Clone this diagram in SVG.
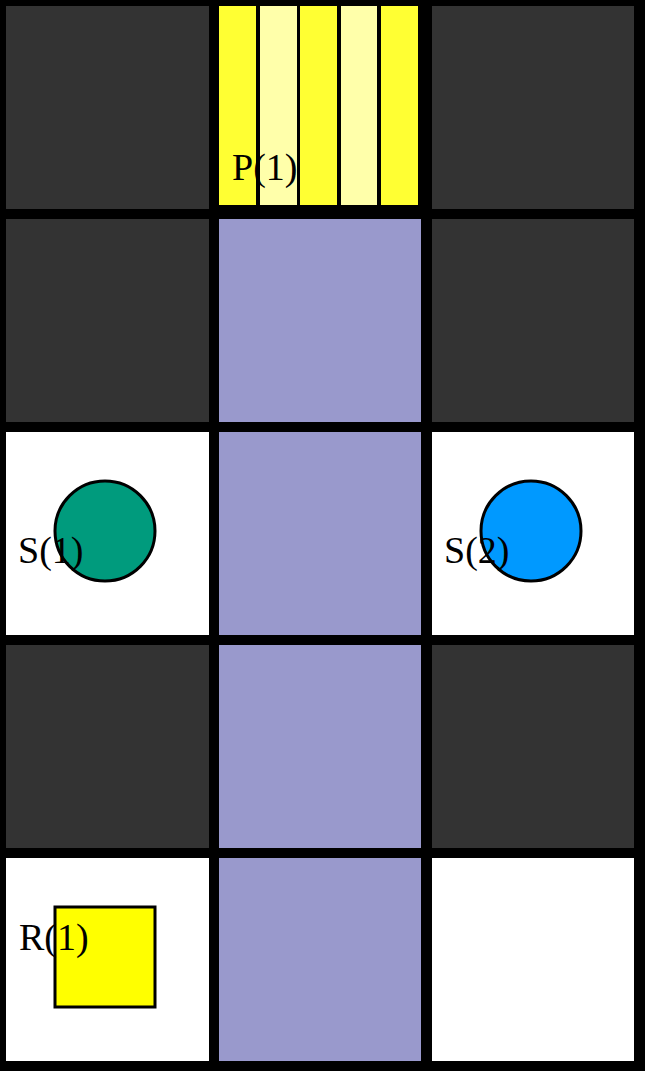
<svg xmlns="http://www.w3.org/2000/svg" width="649" height="1075" viewBox="0 0 649 1075">
<style>
.dark{fill:#333333}
.floor{fill:#ffffff}
.path{fill:#9999cc}
.lbl{font-family:"Liberation Serif","DejaVu Serif",serif;font-size:38px;fill:#000}
.obj{stroke:#000;stroke-width:3}
</style>
<rect x="0" y="0" width="649" height="1075" fill="#ffffff"/>
<rect x="0" y="0" width="645" height="1071" fill="#000000"/>
<g id="cells">
<rect class="dark" x="6" y="6" width="203" height="203"/>
<rect class="dark" x="432" y="6" width="202" height="203"/>
<rect class="dark" x="6" y="219" width="203" height="203"/>
<rect class="path" x="219" y="219" width="202" height="203"/>
<rect class="dark" x="432" y="219" width="202" height="203"/>
<rect class="floor" x="6" y="432" width="203" height="203"/>
<rect class="path" x="219" y="432" width="202" height="203"/>
<rect class="floor" x="432" y="432" width="202" height="203"/>
<rect class="dark" x="6" y="645" width="203" height="203"/>
<rect class="path" x="219" y="645" width="202" height="203"/>
<rect class="dark" x="432" y="645" width="202" height="203"/>
<rect class="floor" x="6" y="858" width="203" height="203"/>
<rect class="path" x="219" y="858" width="202" height="203"/>
<rect class="floor" x="432" y="858" width="202" height="203"/>
</g>
<g id="P1">
<rect x="219" y="6" width="37" height="199" fill="#ffff33"/>
<rect x="260" y="6" width="37" height="199" fill="#ffffaa"/>
<rect x="300" y="6" width="37" height="199" fill="#ffff33"/>
<rect x="341" y="6" width="36" height="199" fill="#ffffaa"/>
<rect x="381" y="6" width="37" height="199" fill="#ffff33"/>
<text class="lbl" x="232" y="180">P(1)</text>
</g>
<g id="S1">
<circle class="obj" cx="105" cy="531" r="50" fill="#009b7d"/>
<text class="lbl" x="18" y="563">S(1)</text>
</g>
<g id="S2">
<circle class="obj" cx="531" cy="531" r="50" fill="#0099ff"/>
<text class="lbl" x="444" y="563">S(2)</text>
</g>
<g id="R1">
<rect class="obj" x="55" y="907" width="100" height="100" fill="#ffff00"/>
<text class="lbl" x="19" y="950">R(1)</text>
</g>
<g id="connectors"></g>
</svg>
